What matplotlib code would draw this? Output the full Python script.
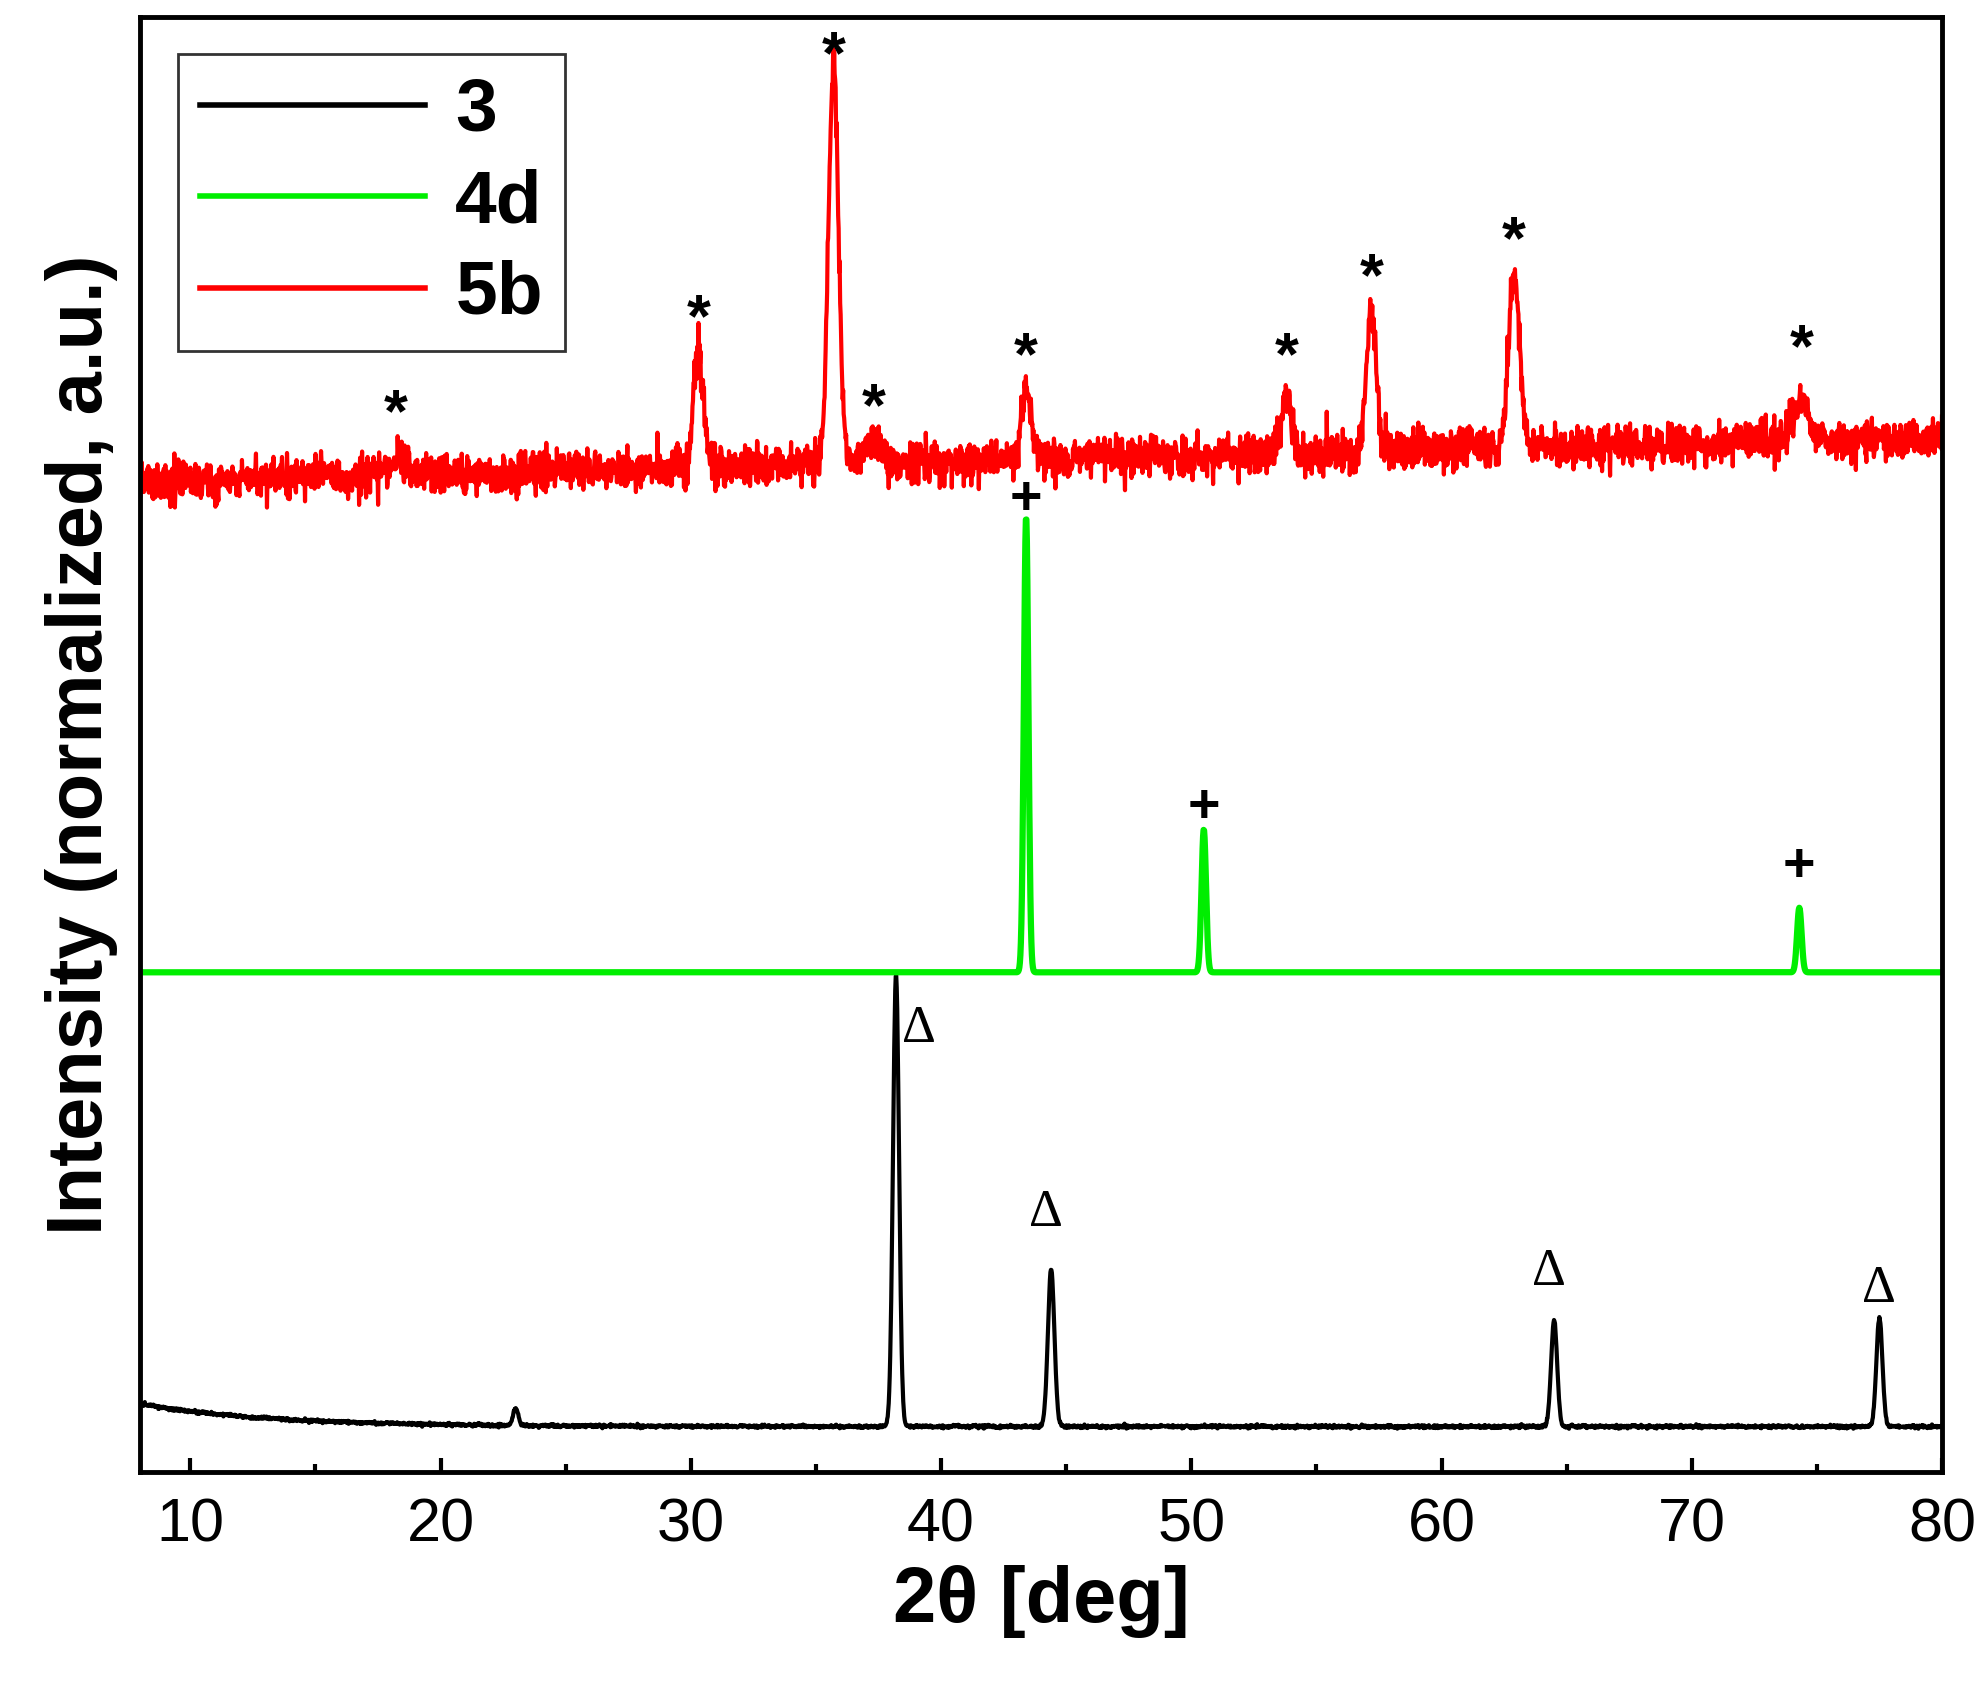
import numpy as np
import matplotlib.pyplot as plt

plt.rcParams['font.family'] = ['Liberation Sans', 'DejaVu Sans']

x = np.linspace(8, 80, 3600)

# sample 3 (black): peak positions, heights, widths
pk3_pos = [23.0, 38.2, 44.4, 64.5, 77.5]
pk3_h = [14, 357, 124, 84, 86]
pk3_w = [0.1, 0.12, 0.13, 0.12, 0.12]
# sample 4d (green)
pk4_pos = [43.4, 50.5, 74.3]
pk4_h = [360, 113, 51]
pk4_w = [0.09, 0.09, 0.09]
# sample 5b (red)
pk5_pos = [18.2, 30.3, 35.7, 37.3, 43.4, 53.8, 57.2, 62.9, 74.4]
pk5_h = [10, 95, 315, 18, 60, 40, 110, 140, 30]
pk5_w = [0.5, 0.2, 0.2, 0.3, 0.2, 0.22, 0.2, 0.22, 0.3]


def profile(pos, h, w):
    y = np.zeros_like(x)
    for p, a, g in zip(pos, h, w):
        y += a * np.exp(-0.5 * ((x - p) / g) ** 2)
    return y


rng = np.random.default_rng(3)
y3 = 36 + 18 * np.exp(-(x - 8) / 5) + profile(pk3_pos, pk3_h, pk3_w) + rng.normal(0, 0.6, x.size)
y4 = 395 + profile(pk4_pos, pk4_h, pk4_w)
y5 = 783 + (x - 8) * 0.48 + profile(pk5_pos, pk5_h, pk5_w) + rng.normal(0, 8, x.size)

fig = plt.figure(figsize=(19.82, 16.96), dpi=100)
ax = fig.add_axes([0.0708, 0.132, 0.909, 0.858])
ax.plot(x, y3, color='black', lw=3, label='3')
ax.plot(x, y4, color='#00ee00', lw=4.5, label='4d')
ax.plot(x, y5, color='red', lw=3, label='5b')

# markers above peaks
star_x = [18.2, 30.3, 35.7, 37.3, 43.4, 53.8, 57.2, 62.9, 74.4]
star_y = [835, 910, 1118, 840, 880, 880, 942, 972, 886]
for a, b in zip(star_x, star_y):
    ax.text(a, b, '*', fontsize=44, ha='center', va='center', fontweight='bold')
plus_x = [43.4, 50.5, 74.3]
plus_y = [768, 525, 478]
for a, b in zip(plus_x, plus_y):
    ax.text(a, b, '+', fontsize=40, ha='center', va='center', fontweight='bold')
tri_x = [39.1, 44.2, 64.3, 77.5]
tri_y = [350, 205, 158, 145]
for a, b in zip(tri_x, tri_y):
    ax.text(a, b, 'Δ', fontsize=38, ha='center', va='center', family='Liberation Serif')

ax.set_xlim(8, 80)
ax.set_ylim(0, 1150)
ax.set_yticks([])
ax.set_xticks(range(10, 81, 10))
ax.set_xticks(range(15, 80, 10), minor=True)
ax.tick_params(axis='x', which='major', direction='in', length=10, width=3, labelsize=44, pad=18)
ax.tick_params(axis='x', which='minor', direction='in', length=6, width=3)
for s in ax.spines.values():
    s.set_linewidth(3.5)
ax.set_xlabel('2θ [deg]', fontsize=56, fontweight='bold', labelpad=8)
ax.set_ylabel('Intensity (normalized, a.u.)', fontsize=56, fontweight='bold', labelpad=16)
leg = ax.legend(loc='upper left', prop={'weight': 'bold', 'size': 54},
                fancybox=False, edgecolor='black', handlelength=3.0, handletextpad=0.4,
                labelspacing=0.3, borderpad=0.3, borderaxespad=0.5)
leg.get_frame().set_linewidth(2)
for ln in leg.get_lines():
    ln.set_linewidth(4)
fig.savefig('out.png', dpi=100)
